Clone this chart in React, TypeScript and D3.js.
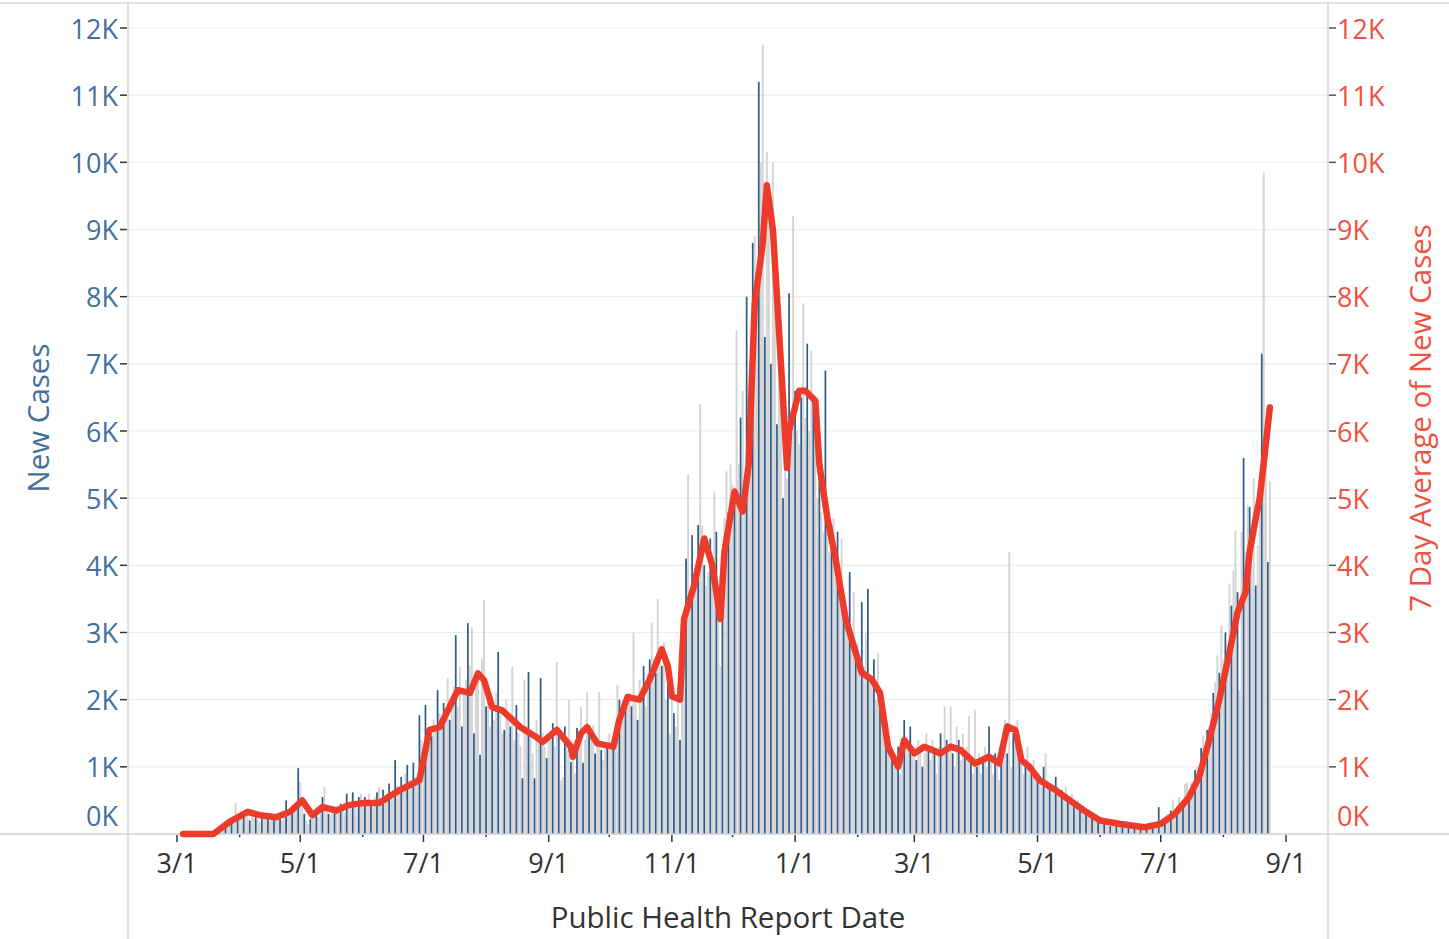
import React from "react";
import * as d3 from "d3";

// Daily new cases (thousands), one value per day starting 2020-03-01
const mar2020 = [0,0,0,0,0,0,0,0,0,0,0,0,0,0,0,0,0,0,0,0.04,0.06,0.08,0.1,0.12,0.1,0.16,0.2,0.17,0.22,0.46,0.25];
const apr2020 = [0.3,0.35,0.28,0.25,0.3,0.2,0.28,0.24,0.3,0.22,0.18,0.27,0.25,0.3,0.23,0.2,0.26,0.28,0.22,0.24,0.3,0.2,0.27,0.5,0.26,0.3,0.3,0.35,0.45,0.98];
const may2020 = [0.77,0.4,0.3,0.2,0.15,0.22,0.28,0.32,0.3,0.25,0.38,0.55,0.7,0.35,0.3,0.28,0.42,0.4,0.35,0.3,0.45,0.38,0.32,0.6,0.45,0.4,0.62,0.5,0.38,0.55,0.6];
const jun2020 = [0.48,0.55,0.45,0.6,0.5,0.42,0.55,0.62,0.7,0.48,0.66,0.55,0.6,0.75,0.58,0.52,1.1,0.72,0.65,0.85,0.7,0.9,1.03,0.8,0.75,1.06,0.85,0.9,1.77,1.4];
const jul2020 = [1.3,1.92,1.5,1.6,1.45,1.7,1.55,2.14,1.8,1.6,1.95,1.75,2.32,1.7,2.0,2.2,2.96,1.9,2.49,1.6,2.1,2.3,3.14,2.51,3.08,1.5,2.3,2.4,1.18,2.6,3.48];
const aug2020 = [1.9,2.2,1.6,2.0,1.7,2.1,2.71,1.8,1.5,1.55,2.0,1.7,1.6,2.49,1.4,1.92,1.5,1.3,0.83,2.3,1.6,2.41,1.5,1.2,0.83,1.7,1.4,2.32,1.5,1.3,1.13];
const sep2020 = [1.4,1.5,1.65,1.3,2.56,1.5,0.8,0.85,1.6,1.4,2.0,1.07,1.2,0.9,1.58,1.3,1.89,1.06,1.4,2.11,1.6,1.5,1.62,1.2,1.3,2.11,1.25,1.1,1.3,1.28];
const oct2020 = [1.5,1.3,1.4,1.6,2.22,2.0,1.8,1.7,1.9,2.0,2.1,1.9,3.0,2.0,1.7,2.3,2.2,2.5,1.9,2.4,2.6,3.15,2.6,2.4,3.5,2.7,2.5,2.85,2.0,2.5,1.5];
const nov2020 = [2.1,1.8,1.6,2.2,1.4,3.2,2.8,4.1,5.35,3.5,4.45,3.6,3.9,4.6,6.4,4.6,4.0,3.7,3.9,4.4,3.8,5.1,4.5,3.45,2.5,3.8,4.7,5.4,4.8,5.5];
const dec2020 = [5.2,4.9,7.5,5.5,6.2,6.6,5.0,8.0,6.5,7.0,8.8,8.9,8.2,11.2,10.0,11.75,7.4,10.15,9.5,7.0,10.0,8.0,6.1,6.8,7.2,5.0,6.6,5.3,8.05,6.0,9.2];
const jan2021 = [6.6,6.0,5.8,6.5,7.9,6.2,7.3,6.0,7.2,6.5,6.3,5.0,5.4,4.8,4.5,6.9,4.9,4.2,4.6,4.7,3.8,4.5,4.0,4.4,3.5,3.2,3.0,3.9,2.8,3.6,2.7];
const feb2021 = [2.85,2.4,3.45,2.5,3.0,3.65,2.3,2.2,2.6,2.0,2.7,2.1,2.0,1.6,1.5,1.35,1.2,1.2,1.1,1.0,1.3,0.9,1.4,1.7,1.3,1.4,1.6,1.2];
const mar2021 = [1.2,1.1,1.4,1.3,1.0,1.2,1.5,1.3,1.1,1.4,1.2,0.9,1.3,1.5,1.2,1.9,1.4,1.3,1.9,1.2,1.0,1.6,1.4,1.1,1.5,1.2,1.3,1.75,1.1,0.9,1.85];
const apr2021 = [1.0,1.2,0.9,1.1,1.3,1.0,1.6,1.1,0.9,1.2,1.0,0.8,1.3,1.1,1.7,1.2,4.2,1.0,1.5,1.3,1.7,1.1,1.2,0.9,1.0,1.3,0.9,1.0,1.1,0.8];
const may2021 = [0.9,0.8,0.7,1.0,1.2,0.8,0.7,0.75,0.6,0.85,0.7,0.6,0.65,0.5,0.7,0.55,0.5,0.6,0.45,0.4,0.5,0.45,0.35,0.4,0.3,0.35,0.3,0.25,0.3,0.22,0.25];
const jun2021 = [0.2,0.18,0.15,0.2,0.16,0.12,0.18,0.15,0.13,0.12,0.15,0.1,0.12,0.14,0.1,0.08,0.12,0.1,0.09,0.1,0.08,0.12,0.09,0.1,0.11,0.09,0.15,0.12,0.1,0.4];
const jul2021 = [0.12,0.18,0.15,0.3,0.25,0.35,0.5,0.3,0.4,0.55,0.45,0.5,0.75,0.77,0.6,0.77,0.7,0.95,1.0,0.9,1.28,1.47,1.2,1.55,1.6,1.8,2.1,2.26,2.66,2.4,3.11];
const aug2021 = [2.59,3.0,2.8,3.73,3.4,3.93,4.52,3.6,2.14,4.5,5.6,4.2,4.9,4.87,4.0,5.3,3.7,4.3,5.0,7.15,9.85,6.2,4.05,5.25];

const dailyNewCasesK: number[] = ([] as number[]).concat(
  mar2020, apr2020, may2020, jun2020, jul2020, aug2020, sep2020, oct2020, nov2020, dec2020,
  jan2021, feb2021, mar2021, apr2021, may2021, jun2021, jul2021, aug2021
);

// 7-day average (thousands) read at vertices: day offset from 2020-03-01
const avgDay = [3,18,26,35,41,49,56,62,67,72,79,85,92,100,110,120,125,130,139,145,149,152,156,161,170,178,181,188,195,196,200,203,208,216,219,223,229,234,240,243,245,249,251,256,261,265,269,271,276,280,283,286,290,292,295,298,302,303,308,311,316,318,322,326,331,336,339,344,348,352,357,360,365,370,378,383,388,395,402,407,411,415,418,422,427,435,442,450,457,467,479,487,494,501,506,511,516,521,525,529,531,534,536,539,541];
const avgK = [0,0,0.18,0.33,0.28,0.25,0.33,0.5,0.28,0.4,0.35,0.43,0.46,0.46,0.65,0.8,1.55,1.59,2.14,2.1,2.39,2.29,1.89,1.84,1.59,1.44,1.37,1.55,1.3,1.15,1.5,1.59,1.35,1.3,1.7,2.04,2.0,2.3,2.75,2.5,2.05,2.0,3.2,3.7,4.4,4.0,3.2,4.2,5.1,4.8,5.5,7.9,8.8,9.66,9.0,7.5,5.45,6.0,6.6,6.6,6.45,5.5,4.7,4.1,3.2,2.7,2.4,2.3,2.1,1.3,1.0,1.4,1.2,1.3,1.2,1.3,1.25,1.05,1.15,1.05,1.6,1.55,1.1,1.0,0.8,0.65,0.5,0.33,0.2,0.15,0.1,0.15,0.3,0.55,0.85,1.4,2.0,2.7,3.3,3.6,4.2,4.7,5.0,5.8,6.35];

const yTicksK = [0,1,2,3,4,5,6,7,8,9,10,11,12];
const monthTicks = ["2020-03-01","2020-04-01","2020-05-01","2020-06-01","2020-07-01","2020-08-01","2020-09-01","2020-10-01","2020-11-01","2020-12-01","2021-01-01","2021-02-01","2021-03-01","2021-04-01","2021-05-01","2021-06-01","2021-07-01","2021-08-01","2021-09-01"];
const monthLabels = ["3/1","","5/1","","7/1","","9/1","","11/1","","1/1","","3/1","","5/1","","7/1","","9/1"];

const START = Date.UTC(2020, 2, 1);
const DAY = 86400000;
const FONT = "'Open Sans', 'Noto Sans', sans-serif";
const BLUE = "#2b5a8b";
const GRAY = "#d4d4d4";
const RED = "#ec3a2b";
const AXIS_BLUE = "#44709c";
const AXIS_RED = "#f0513f";

export default function App() {
  const W = 1449, H = 939;
  const left = 128, right = 1328, top = 3;
  const x = d3.scaleUtc()
    .domain([new Date(START), new Date(Date.UTC(2021, 8, 1))])
    .range([177, 1286]);
  const y = d3.scaleLinear().domain([0, 12]).range([834, 28]);
  const base = y(0);
  const dayDate = (d: number) => new Date(START + d * DAY);

  const line = d3.line<number>()
    .x((_, i) => x(dayDate(avgDay[i])))
    .y((v) => y(v))
    .curve(d3.curveLinear);

  const grays: JSX.Element[] = [];
  const blues: JSX.Element[] = [];
  dailyNewCasesK.forEach((v, d) => {
    if (v <= 0) return;
    const cx = x(dayDate(d));
    const yy = y(v);
    if (d % 3 === 0) {
      blues.push(<rect key={"b" + d} x={cx - 0.85} y={yy} width={1.7} height={base - yy} fill={BLUE} />);
    } else {
      grays.push(<rect key={"g" + d} x={cx - 0.95} y={yy} width={1.9} height={base - yy} fill={GRAY} />);
    }
  });

  return (
    <svg width={W} height={H} style={{ position: "absolute", left: 0, top: 0, background: "#fff" }} fontFamily={FONT}>
      <rect x={0} y={0} width={W} height={H} fill="#fff" />
      {/* gridlines */}
      {yTicksK.filter((t) => t > 0).map((t) => (
        <line key={"gl" + t} x1={left} x2={right} y1={y(t)} y2={y(t)} stroke="#ededed" strokeWidth={1.2} />
      ))}
      {/* frame lines */}
      <line x1={0} x2={W} y1={top} y2={top} stroke="#d6d6d6" strokeWidth={1.5} />
      <line x1={left} x2={left} y1={top} y2={H} stroke="#d6d6d6" strokeWidth={1.5} />
      <line x1={right} x2={right} y1={top} y2={H} stroke="#d6d6d6" strokeWidth={1.5} />
      {/* bars */}
      <g>{grays}</g>
      <g>{blues}</g>
      <line x1={0} x2={W} y1={base} y2={base} stroke="#cfcfcf" strokeWidth={1.5} />
      {/* 7 day average */}
      <path d={line(avgK) || ""} fill="none" stroke={RED} strokeWidth={6.5} strokeLinejoin="round" strokeLinecap="round" />
      {/* left axis */}
      {yTicksK.map((t) => (
        <g key={"ly" + t}>
          {t > 0 && <line x1={left - 8} x2={left - 1} y1={y(t)} y2={y(t)} stroke="#333" strokeWidth={1.5} />}
          <text x={left - 10} y={t > 0 ? y(t) : y(t) - 19} textAnchor="end" dominantBaseline="central" fontSize={27} fill={AXIS_BLUE}>{t}K</text>
        </g>
      ))}
      {/* right axis */}
      {yTicksK.map((t) => (
        <g key={"ry" + t}>
          {t > 0 && <line x1={right + 1} x2={right + 8} y1={y(t)} y2={y(t)} stroke="#555" strokeWidth={1.5} />}
          <text x={right + 9} y={t > 0 ? y(t) : y(t) - 19} textAnchor="start" dominantBaseline="central" fontSize={27} fill={AXIS_RED}>{t}K</text>
        </g>
      ))}
      {/* x axis */}
      {monthTicks.map((m, i) => {
        const px = x(new Date(m + "T00:00:00Z"));
        const major = monthLabels[i] !== "";
        return (
          <g key={"xt" + i}>
            <line x1={px} x2={px} y1={base + 1} y2={base + (major ? 8 : 3)} stroke="#333" strokeWidth={1.5} />
            {major && (
              <text x={px} y={862} textAnchor="middle" dominantBaseline="central" fontSize={27} fill="#333">{monthLabels[i]}</text>
            )}
          </g>
        );
      })}
      {/* titles */}
      <text x={728} y={916} textAnchor="middle" dominantBaseline="central" fontSize={29.5} fill="#333">Public Health Report Date</text>
      <text transform="translate(37,418) rotate(-90)" textAnchor="middle" dominantBaseline="central" fontSize={29.5} fill={AXIS_BLUE}>New Cases</text>
      <text transform="translate(1419,418) rotate(-90)" textAnchor="middle" dominantBaseline="central" fontSize={29.5} fill={AXIS_RED}>7 Day Average of New Cases</text>
    </svg>
  );
}
